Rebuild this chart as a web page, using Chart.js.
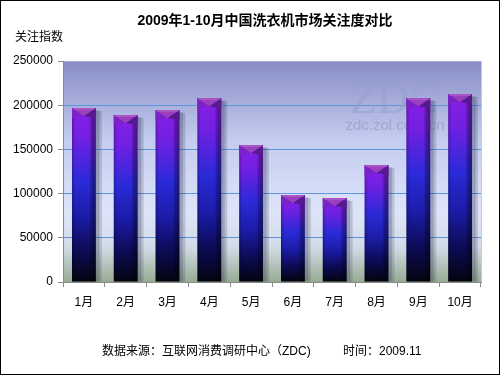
<!DOCTYPE html>
<html>
<head>
<meta charset="utf-8">
<script src="https://cdn.jsdelivr.net/npm/chart.js@4.4.0/dist/chart.umd.min.js"></script>
<style>
  html, body { margin: 0; padding: 0; background: #fff; overflow: hidden; }
  canvas { display: block; }
</style>
</head>
<body>
<canvas id="chart" width="500" height="375"></canvas>
<script>
// data
const months = ['1月', '2月', '3月', '4月', '5月', '6月', '7月', '8月', '9月', '10月'];
const attention = [196800, 189000, 194600, 208000, 155000, 98400, 95000, 132400, 208000, 212700];
const yTicks = [0, 50000, 100000, 150000, 200000, 250000];

const titleText = '2009年1-10月中国洗衣机市场关注度对比';
const yTitle = '关注指数';
const sourceText = '数据来源：互联网消费调研中心（ZDC)';
const timeText = '时间：2009.11';

const FONT = '"Liberation Sans", Arial, "Noto Sans CJK SC", sans-serif';

// vertical gradient for each bar, purple on top fading to black
function barFill(c) {
  const chart = c.chart;
  const y = chart.scales.y;
  if (!y || c.raw == null) return '#2a28d8';
  const top = y.getPixelForValue(c.raw);
  const bottom = y.getPixelForValue(0);
  if (!isFinite(top) || !isFinite(bottom) || top === bottom) return '#2a28d8';
  const g = chart.ctx.createLinearGradient(0, top, 0, bottom);
  g.addColorStop(0, '#8a1ee6');
  g.addColorStop(0.18, '#7020e2');
  g.addColorStop(0.42, '#2a2ad8');
  g.addColorStop(0.62, '#1c1ca8');
  g.addColorStop(0.82, '#0b0b55');
  g.addColorStop(1, '#04040e');
  return g;
}

const decoPlugin = {
  id: 'deco',
  beforeDraw(chart) {
    const { ctx, chartArea: a } = chart;
    ctx.save();
    const g = ctx.createLinearGradient(0, a.top, 0, a.bottom);
    g.addColorStop(0, '#878dc5');
    g.addColorStop(0.35, '#c3cbef');
    g.addColorStop(0.68, '#dde4f9');
    g.addColorStop(0.84, '#d2dce8');
    g.addColorStop(1, '#97ab93');
    ctx.fillStyle = g;
    ctx.fillRect(a.left, a.top, a.right - a.left, a.bottom - a.top);
    ctx.strokeStyle = '#c4cad8';
    ctx.lineWidth = 1;
    ctx.beginPath();
    ctx.moveTo(a.right + 0.5, a.top);
    ctx.lineTo(a.right + 0.5, a.bottom);
    ctx.stroke();
    ctx.restore();
  },
  beforeDatasetsDraw(chart) {
    const ctx = chart.ctx;
    ctx.save();
    // watermark
    ctx.fillStyle = 'rgba(150,160,205,0.6)';
    ctx.textAlign = 'center';
    ctx.textBaseline = 'middle';
    ctx.font = '44px "Liberation Serif", serif';
    ctx.fillText('ZDC', 394, 101);
    ctx.fillStyle = 'rgba(140,150,190,0.6)';
    ctx.font = '15px ' + FONT;
    ctx.fillText('zdc.zol.com.cn', 395, 126);
    // soft shadows behind the bars
    const meta = chart.getDatasetMeta(0);
    meta.data.forEach(bar => {
      const w = bar.width;
      const x0 = bar.x - w / 2;
      ctx.fillStyle = 'rgba(40,40,70,0.18)';
      ctx.fillRect(x0 + 3, bar.y + 3, w + 3, bar.base - bar.y - 3);
      ctx.fillStyle = 'rgba(40,40,70,0.2)';
      ctx.fillRect(x0 + 2, bar.y + 2, w + 1.5, bar.base - bar.y - 2);
    });
    ctx.restore();
  },
  afterDatasetsDraw(chart) {
    const ctx = chart.ctx;
    const meta = chart.getDatasetMeta(0);
    ctx.save();
    meta.data.forEach(bar => {
      const w = bar.width;
      const x0 = bar.x - w / 2;
      const x1 = bar.x + w / 2;
      const top = bar.y;
      const h = bar.base - top;
      // side shading
      const sg = ctx.createLinearGradient(x0, 0, x1, 0);
      sg.addColorStop(0, 'rgba(0,0,0,0.25)');
      sg.addColorStop(0.14, 'rgba(0,0,0,0)');
      sg.addColorStop(0.72, 'rgba(0,0,0,0)');
      sg.addColorStop(0.84, 'rgba(0,0,0,0.3)');
      sg.addColorStop(1, 'rgba(0,0,0,0.4)');
      ctx.fillStyle = sg;
      ctx.fillRect(x0, top, w, h);
      // pyramid cap
      const cap = Math.min(8, h / 2);
      ctx.fillStyle = '#7a22c6';
      ctx.beginPath();
      ctx.moveTo(x0, top); ctx.lineTo(bar.x, top + cap); ctx.lineTo(x0, top + cap + 2); ctx.closePath();
      ctx.fill();
      ctx.fillStyle = '#561a8e';
      ctx.beginPath();
      ctx.moveTo(x1, top); ctx.lineTo(bar.x, top + cap); ctx.lineTo(x1, top + cap + 2); ctx.closePath();
      ctx.fill();
      ctx.fillStyle = '#9a40bc';
      ctx.beginPath();
      ctx.moveTo(x0, top); ctx.lineTo(x1, top); ctx.lineTo(bar.x, top + cap); ctx.closePath();
      ctx.fill();
      ctx.fillStyle = 'rgba(190,110,210,0.45)';
      ctx.fillRect(x0 + 1, top, w - 2, 2);
    });
    ctx.restore();
  },
  afterDraw(chart) {
    const ctx = chart.ctx;
    ctx.save();
    ctx.fillStyle = '#000';
    ctx.textBaseline = 'middle';
    ctx.textAlign = 'center';
    ctx.font = 'bold 14px ' + FONT;
    ctx.fillText(titleText, 265, 21);
    ctx.textAlign = 'left';
    ctx.font = '12px ' + FONT;
    ctx.fillText(yTitle, 15, 38);
    ctx.fillText(sourceText, 102, 352);
    ctx.fillText(timeText, 343, 352);
    ctx.strokeStyle = '#000';
    ctx.lineWidth = 1;
    ctx.strokeRect(0.5, 0.5, 499, 374);
    ctx.restore();
  }
};

new Chart(document.getElementById('chart').getContext('2d'), {
  type: 'bar',
  data: {
    labels: months,
    datasets: [{
      label: yTitle,
      data: attention,
      backgroundColor: barFill,
      borderWidth: 0,
      categoryPercentage: 1,
      barPercentage: 0.57
    }]
  },
  options: {
    responsive: false,
    devicePixelRatio: 1,
    animation: false,
    layout: { padding: { top: 61, left: 0, right: 19, bottom: 53 } },
    plugins: {
      legend: { display: false },
      tooltip: { enabled: false },
      title: { display: false }
    },
    scales: {
      x: {
        grid: { display: true, drawOnChartArea: false, offset: true, tickLength: 5, color: '#8a8a8a' },
        border: { color: '#8a8a8a' },
        ticks: { color: '#000', padding: 8, font: { size: 12, family: FONT } },
        afterFit(s) { s.height = 40; }
      },
      y: {
        min: 0,
        max: 250000,
        afterBuildTicks(s) { s.ticks = yTicks.map(v => ({ value: v })); },
        grid: {
          tickLength: 5,
          color: c => (c.tick && c.tick.value === 250000) ? '#a4acd8' : (c.tick && c.tick.value === 0 ? 'rgba(0,0,0,0)' : '#5f93dc'),
          tickColor: '#8a8a8a'
        },
        border: { color: '#8a8a8a' },
        ticks: {
          color: '#000',
          padding: 5,
          font: { size: 12, family: FONT },
          callback: v => String(v)
        },
        afterFit(s) { s.width = 63; }
      }
    }
  },
  plugins: [decoPlugin]
});
</script>
</body>
</html>
